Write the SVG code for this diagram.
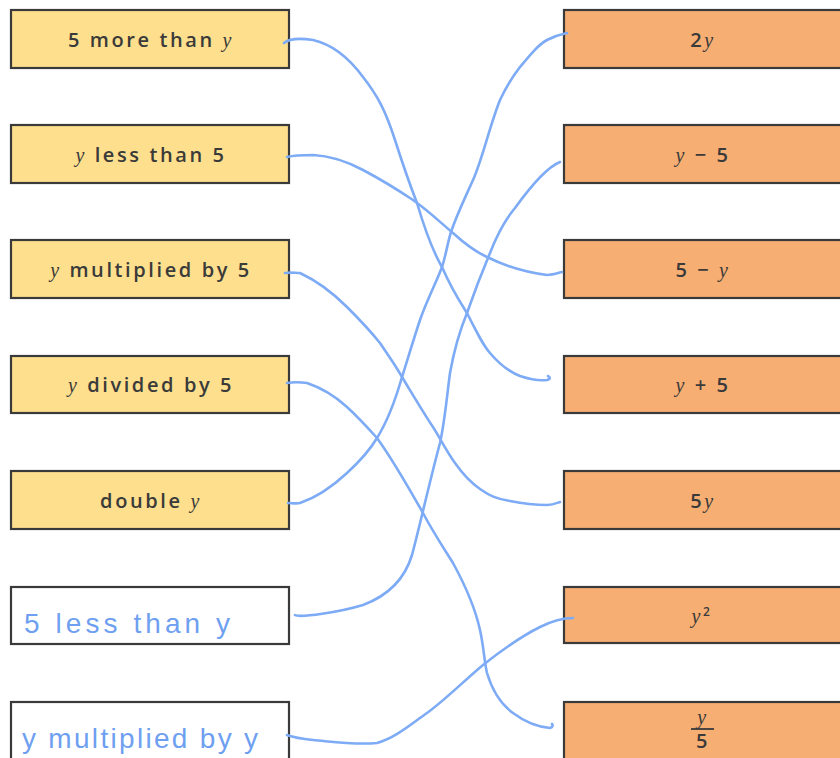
<svg xmlns="http://www.w3.org/2000/svg" width="840" height="758" viewBox="0 0 840 758">
<style>
.l{fill:#fddf8d;stroke:#3a3a3a;stroke-width:2.2}
.r{fill:#f6ae72;stroke:#3a3a3a;stroke-width:2.2}
.w{fill:#ffffff;stroke:#3a3a3a;stroke-width:2.2}
.t{font-family:"Open Sans","Liberation Sans",sans-serif;font-size:20px;font-weight:600;fill:#3a3a3a;text-anchor:middle;letter-spacing:2.6px}
.v{font-family:"Liberation Serif",serif;font-style:italic;font-weight:400}
.h{font-family:"Liberation Sans",sans-serif;font-size:28px;fill:#6f9ff0}
.c{fill:none;stroke:#7eabf5;stroke-width:2.6;stroke-linecap:round;stroke-linejoin:round}
</style>
<rect width="840" height="758" fill="#ffffff"/>
<g id="L1"><rect class="l" x="11" y="10" width="278" height="58"/><text class="t" x="151" y="47">5 more than <tspan class="v">y</tspan></text></g>
<g id="L2"><rect class="l" x="11" y="125" width="278" height="58"/><text class="t" x="151" y="162"><tspan class="v">y</tspan> less than 5</text></g>
<g id="L3"><rect class="l" x="11" y="240" width="278" height="58"/><text class="t" x="151" y="277"><tspan class="v">y</tspan> multiplied by 5</text></g>
<g id="L4"><rect class="l" x="11" y="356" width="278" height="57"/><text class="t" x="151" y="392"><tspan class="v">y</tspan> divided by 5</text></g>
<g id="L5"><rect class="l" x="11" y="471" width="278" height="58"/><text class="t" x="151" y="508">double <tspan class="v">y</tspan></text></g>
<g id="L6"><rect class="w" x="11" y="587" width="278" height="57"/><text class="h" x="24" y="633" textLength="206" lengthAdjust="spacing">5 less than y</text></g>
<g id="L7"><rect class="w" x="11" y="702" width="278" height="60"/><text class="h" x="22" y="748" textLength="236" lengthAdjust="spacing">y multiplied by y</text></g>
<g id="R1"><rect class="r" x="564" y="10" width="280" height="58"/><text class="t" x="703" y="47">2<tspan class="v">y</tspan></text></g>
<g id="R2"><rect class="r" x="564" y="125" width="280" height="58"/><text class="t" x="703" y="162"><tspan class="v">y</tspan> − 5</text></g>
<g id="R3"><rect class="r" x="564" y="240" width="280" height="58"/><text class="t" x="703" y="277">5 − <tspan class="v">y</tspan></text></g>
<g id="R4"><rect class="r" x="564" y="356" width="280" height="57"/><text class="t" x="703" y="392"><tspan class="v">y</tspan> + 5</text></g>
<g id="R5"><rect class="r" x="564" y="471" width="280" height="58"/><text class="t" x="703" y="508">5<tspan class="v">y</tspan></text></g>
<g id="R6"><rect class="r" x="564" y="587" width="280" height="56"/><text class="t" x="702" y="623"><tspan class="v">y</tspan><tspan font-size="12" dy="-7">2</tspan></text></g>
<g id="R7"><rect class="r" x="564" y="702" width="280" height="60"/><text class="t" x="703" y="724"><tspan class="v">y</tspan></text><line x1="691" y1="729" x2="714" y2="729" stroke="#3a3a3a" stroke-width="1.8"/><text class="t" x="703" y="748">5</text></g>
<g id="connectors">
<path class="c" d="M284,43 C290,38 300,38 313,40 C335,45 352,62 363,77 C378,96 386,112 395,140 C403,165 410,185 417,203 C425,230 432,250 442,267 C452,290 460,302 467,313 C477,333 483,345 490,353 C500,365 510,372 520,376 C532,380 540,381 547,380 C551,379 550,377 548,376"/>
<path class="c" d="M287,157 C295,155 303,155 313,155 C333,156 348,162 363,170 C382,180 398,190 413,200 C430,212 442,224 453,233 C465,244 476,252 487,257 C505,266 525,272 547,275 C553,275 558,273 562,272"/>
<path class="c" d="M285,273 C290,272 295,273 300,273 C315,280 332,292 347,307 C362,322 372,333 380,343 C388,355 396,366 402,377 C413,395 423,412 433,427 C440,438 447,452 455,463 C462,473 470,482 480,489 C490,496 497,499 510,501 C525,504 538,505 547,505 C553,505 557,503 560,502"/>
<path class="c" d="M287,383 C293,382 300,382 307,383 C322,388 335,396 347,407 C360,419 368,428 377,438 C393,460 410,490 423,513 C433,532 443,547 453,563 C465,585 475,607 480,630 C484,648 484,660 487,673 C493,693 502,705 513,713 C525,722 538,727 550,728 C553,727 553,725 552,724"/>
<path class="c" d="M288,503 C292,503 296,504 300,503 C318,497 333,486 347,473 C360,461 370,450 377,438 C387,422 396,398 402,377 C408,358 414,338 420,320 C427,300 436,283 442,267 C446,255 447,245 451,232 C457,214 465,198 473,180 C482,160 490,125 500,100 C507,85 513,76 520,67 C530,55 538,45 547,40 C555,36 562,34 567,33"/>
<path class="c" d="M295,615 C300,618 340,612 363,605 C390,595 405,578 412,555 C420,525 430,480 440,443 C445,420 447,395 450,373 C455,345 460,330 467,313 C475,290 482,272 490,253 C497,235 505,220 515,208 C528,190 545,168 560,162"/>
<path class="c" d="M287,735 C295,738 303,739 313,740 C335,742 355,745 377,743 C395,738 410,725 427,713 C445,700 465,680 483,665 C502,650 520,637 540,627 C552,621 563,618 573,618"/>
</g>
</svg>
